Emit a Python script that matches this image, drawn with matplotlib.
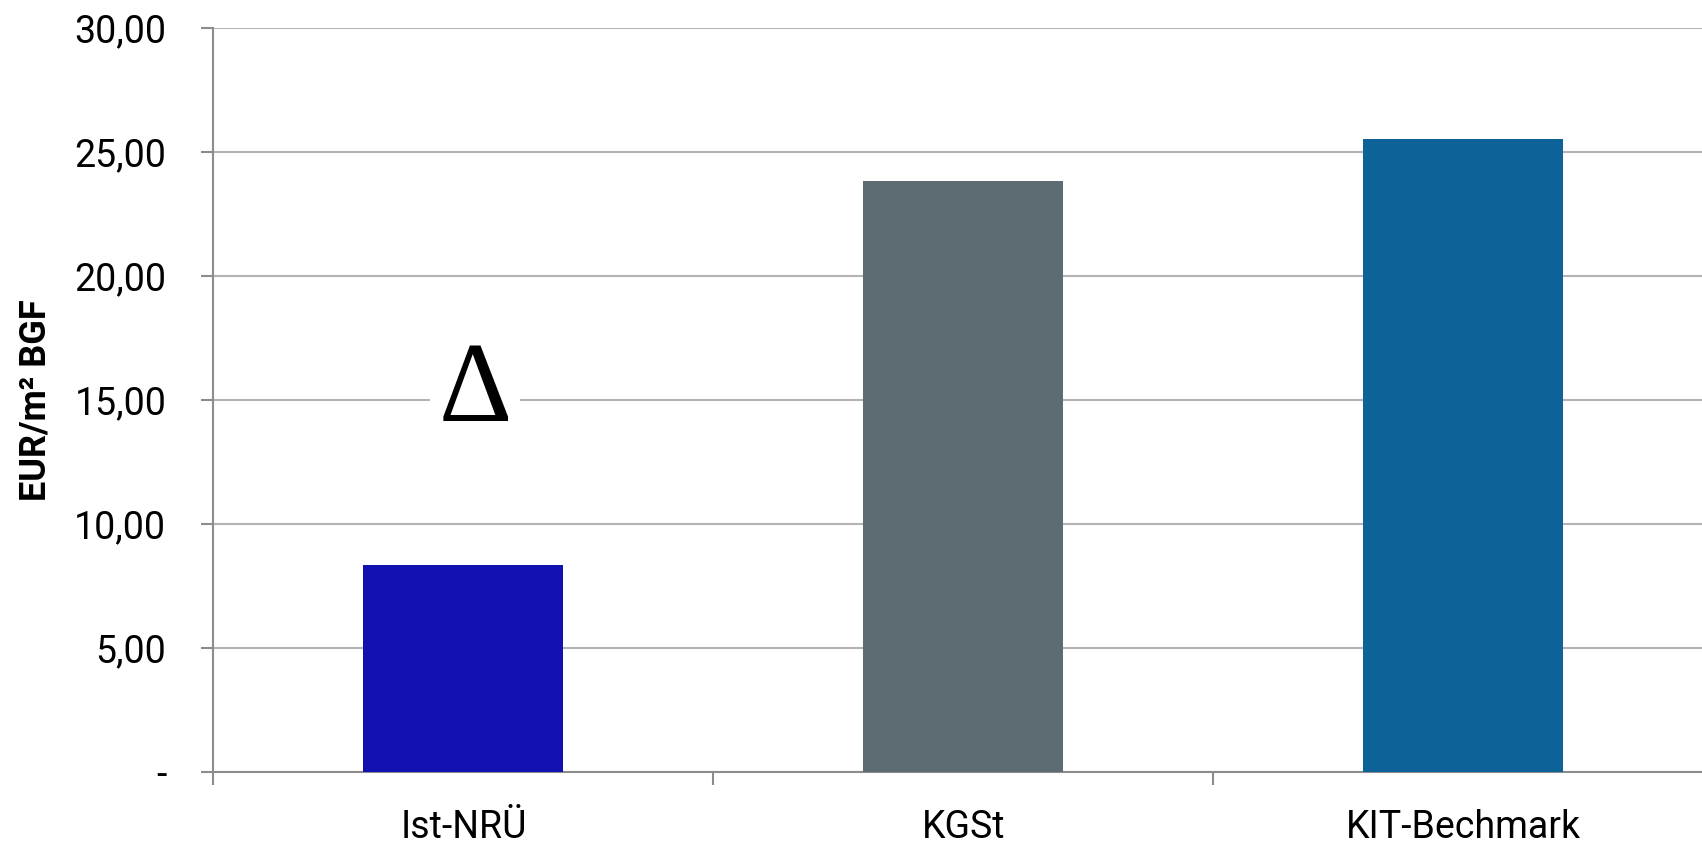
import matplotlib.pyplot as plt

# === DATEN ===
categories = ['Ist-NRÜ', 'KGSt', 'KIT-Bechmark']
values = [8.35, 23.8, 25.5]
colors = ['#1111b1', '#5c6c70', '#0d6397']
yticks = [0, 5, 10, 15, 20, 25, 30]
ytick_labels = ['-', '5,00', '10,00', '15,00', '20,00', '25,00', '30,00']

plt.rcParams['font.family'] = ['Roboto', 'DejaVu Sans']

fig = plt.figure(figsize=(17.02, 8.47), dpi=100)
ax = fig.add_axes([0.1254, 0.0886, 0.8813, 0.8788])

x = range(len(categories))
ax.bar(x, values, width=0.4, color=colors, zorder=3)

ax.set_xlim(-0.5, len(categories) - 0.5)
ax.set_ylim(0, 30)

# Gitter und Achsen
ax.set_yticks(yticks)
ax.set_yticklabels(ytick_labels, fontsize=27)
ax.yaxis.grid(True, color='#b3b3b3', linewidth=1.5, zorder=0)
ax.set_axisbelow(True)
ax.tick_params(axis='y', length=9, width=1.5, color='#8c8c8c', pad=25)

ax.set_xticks([i - 0.5 for i in x] + [len(categories) - 0.5])
ax.set_xticklabels([])
ax.set_xticks(list(x), minor=True)
ax.set_xticklabels(categories, minor=True, fontsize=27)
ax.tick_params(axis='x', which='major', length=9, width=1.5, color='#8c8c8c')
ax.tick_params(axis='x', which='minor', length=0, pad=27)

for s in ['top', 'right']:
    ax.spines[s].set_visible(False)
for s in ['left', 'bottom']:
    ax.spines[s].set_color('#8c8c8c')
    ax.spines[s].set_linewidth(1.5)

fig.text(36 / 1702, 1 - 400 / 847, 'EUR/m² BGF', fontsize=26, fontweight='bold',
         rotation=90, ha='center', va='center')

# Delta-Symbol
ax.text(0.023, 14.15, 'Δ', fontsize=82, family='Liberation Serif',
        ha='center', va='baseline', zorder=4,
        bbox=dict(facecolor='white', edgecolor='none', pad=6))

fig.savefig('out.png', dpi=100)
